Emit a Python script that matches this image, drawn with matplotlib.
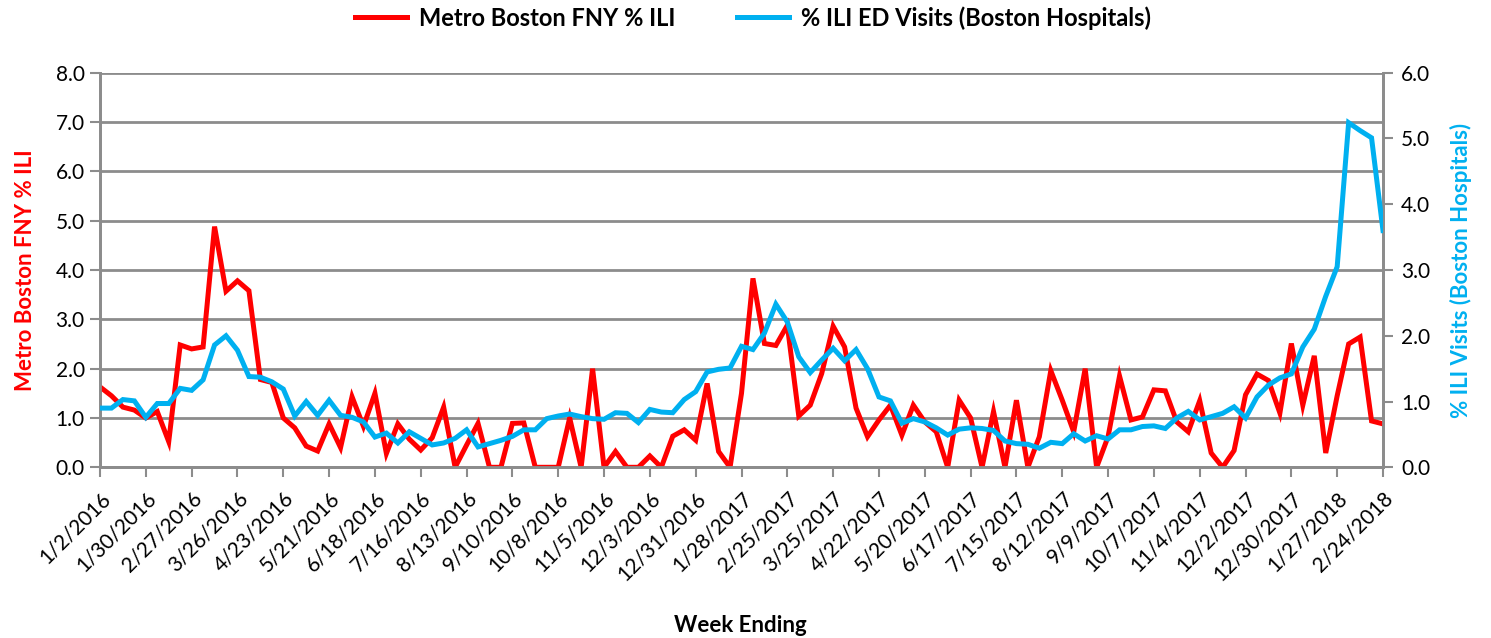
import numpy as np
import matplotlib
matplotlib.use('agg')
import matplotlib.pyplot as plt

# weekly values, week ending 1/2/2016 .. 2/24/2018
fny_ili = [1.63, 1.45, 1.22, 1.16, 1.00, 1.13, 0.52, 2.48, 2.40, 2.44,
           4.88, 3.57, 3.78, 3.58, 1.78, 1.72, 1.00, 0.80, 0.43, 0.33,
           0.88, 0.40, 1.43, 0.83, 1.50, 0.28, 0.88, 0.57, 0.35, 0.60,
           1.22, 0.00, 0.45, 0.89, 0.00, 0.00, 0.89, 0.90, 0.00, 0.00,
           0.00, 1.00, 0.00, 2.00, 0.00, 0.32, 0.00, 0.00, 0.23, 0.00,
           0.63, 0.76, 0.55, 1.70, 0.32, 0.00, 1.50, 3.83, 2.51, 2.47,
           2.88, 1.04, 1.26, 1.90, 2.86, 2.44, 1.20, 0.62, 0.96, 1.26,
           0.65, 1.26, 0.92, 0.72, 0.00, 1.36, 1.00, 0.00, 1.13, 0.00,
           1.36, 0.00, 0.62, 1.96, 1.36, 0.72, 2.00, 0.00, 0.62, 1.85,
           0.96, 1.02, 1.57, 1.55, 0.92, 0.72, 1.35, 0.29, 0.00, 0.34,
           1.47, 1.89, 1.76, 1.10, 2.51, 1.26, 2.26, 0.29, 1.45, 2.50,
           2.64, 0.94, 0.88]

ed_ili = [0.90, 0.90, 1.03, 1.01, 0.76, 0.97, 0.97, 1.20, 1.17, 1.33,
          1.86, 2.00, 1.78, 1.38, 1.37, 1.30, 1.19, 0.78, 1.00, 0.79,
          1.02, 0.79, 0.76, 0.69, 0.46, 0.52, 0.37, 0.54, 0.44, 0.34,
          0.37, 0.44, 0.57, 0.31, 0.36, 0.41, 0.47, 0.57, 0.57, 0.74,
          0.78, 0.81, 0.77, 0.74, 0.73, 0.83, 0.82, 0.68, 0.88, 0.84,
          0.83, 1.03, 1.15, 1.45, 1.49, 1.51, 1.84, 1.79, 2.04, 2.48,
          2.21, 1.68, 1.44, 1.63, 1.81, 1.62, 1.79, 1.50, 1.07, 1.01,
          0.67, 0.74, 0.69, 0.60, 0.49, 0.58, 0.60, 0.59, 0.56, 0.40,
          0.36, 0.35, 0.29, 0.38, 0.36, 0.51, 0.40, 0.48, 0.43, 0.57,
          0.57, 0.62, 0.63, 0.59, 0.75, 0.85, 0.72, 0.77, 0.82, 0.92,
          0.75, 1.07, 1.25, 1.36, 1.42, 1.83, 2.10, 2.60, 3.05, 5.24,
          5.12, 5.01, 3.60]

tick_labels = ['1/2/2016', '1/30/2016', '2/27/2016', '3/26/2016', '4/23/2016',
               '5/21/2016', '6/18/2016', '7/16/2016', '8/13/2016', '9/10/2016',
               '10/8/2016', '11/5/2016', '12/3/2016', '12/31/2016', '1/28/2017',
               '2/25/2017', '3/25/2017', '4/22/2017', '5/20/2017', '6/17/2017',
               '7/15/2017', '8/12/2017', '9/9/2017', '10/7/2017', '11/4/2017',
               '12/2/2017', '12/30/2017', '1/27/2018', '2/24/2018']

RED = '#FF0000'
BLUE = '#00B0F0'
GRID = '#8C8C8C'
FONT = 'Lato'

plt.rcParams['font.family'] = [FONT, 'DejaVu Sans']

x = np.arange(len(fny_ili))

fig = plt.figure(figsize=(14.91, 6.38), dpi=100)
ax = fig.add_axes([100/1491, 1-467.3/638, 1283/1491, 394.6/638])
ax2 = ax.twinx()

l1, = ax.plot(x, fny_ili, color=RED, lw=3.6, solid_joinstyle='miter',
              label='Metro Boston FNY % ILI', zorder=3)
l2, = ax2.plot(x, ed_ili, color=BLUE, lw=3.6, solid_joinstyle='miter',
               label='% ILI ED Visits (Boston Hospitals)', zorder=3)

ax.set_xlim(0, len(x) - 1)
ax.set_ylim(0, 8)
ax2.set_ylim(0, 6)
ax.set_yticks(np.arange(0, 9, 1))
ax2.set_yticks(np.arange(0, 7, 1))
ax.set_yticklabels(['%.1f' % v for v in np.arange(0, 9, 1)], fontsize=15)
ax2.set_yticklabels(['%.1f' % v for v in np.arange(0, 7, 1)], fontsize=15)

ax.set_xticks(np.arange(0, len(x), 4))
ax.set_xticklabels(tick_labels, rotation=45, ha='right', va='top',
                   rotation_mode='anchor', fontsize=15)

ax.grid(axis='y', color=GRID, lw=2)
ax.set_axisbelow(True)
for a in (ax, ax2):
    for s in a.spines.values():
        s.set_color(GRID)
        s.set_linewidth(2)
    a.spines['top'].set_visible(False)
ax.tick_params(axis='both', color=GRID, width=1.5, length=7, pad=4)
ax2.tick_params(axis='y', color=GRID, width=1.5, length=7, pad=6)
ax.tick_params(axis='x', pad=8)

ax.set_ylabel('Metro Boston FNY % ILI', color=RED, fontsize=16,
              fontweight='bold', labelpad=14)
ax2.set_ylabel('% ILI Visits (Boston Hospitals)', color=BLUE, fontsize=16,
               fontweight='bold', labelpad=14)
fig.text(740/1491, 1-625/638, 'Week Ending', fontsize=16, fontweight='bold',
         ha='center', va='center')

fig.legend(handles=[l1, l2], loc='center', bbox_to_anchor=(0.505, 0.972),
           ncol=2, frameon=False, prop={'weight': 'bold', 'size': 17},
           handlelength=2.2, columnspacing=2.6, handletextpad=0.5)

fig.savefig('out.png', dpi=100)
